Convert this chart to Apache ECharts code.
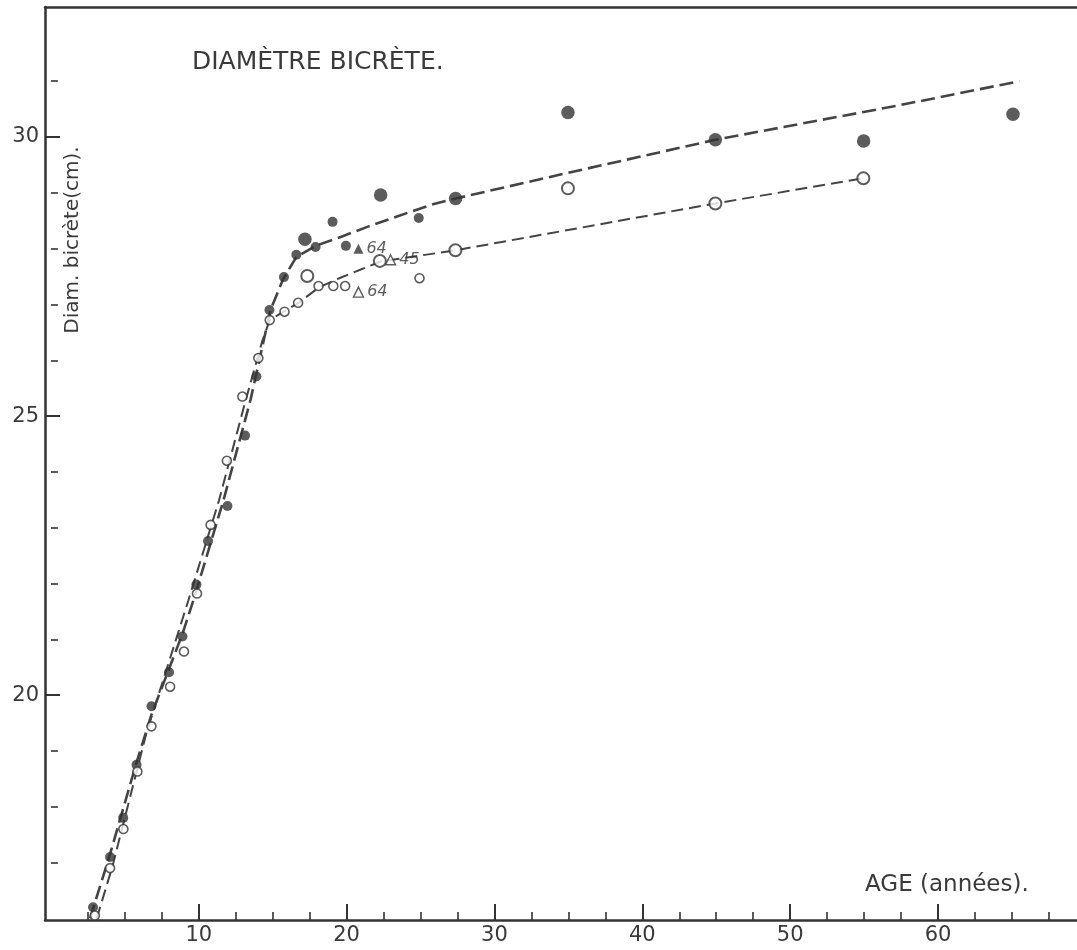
<!DOCTYPE html>
<html><head><meta charset="utf-8">
<script src="https://cdn.jsdelivr.net/npm/echarts@6/dist/echarts.min.js"></script>
<style>html,body{margin:0;padding:0;background:#fff}#c{width:1077px;height:950px}</style>
</head><body><div id="c"></div>
<script>
// ---- data ----
const xMajorTicks = [10, 20, 30, 40, 50, 60];
const xMinorTicks = [2.5, 5, 7.5, 12.5, 15, 17.5, 22.5, 25, 27.5, 32.5, 35, 37.5, 42.5, 45, 47.5, 52.5, 55, 57.5, 62.5, 65, 67.5];
const yMajorTicks = [20, 25, 30];
const yMinorTicks = [17, 18, 19, 21, 22, 23, 24, 26, 27, 28, 29, 31];

const filledSmall = [[2.85,16.2],[4.0,17.1],[4.89,17.8],[5.79,18.75],[6.8,19.8],[7.99,20.41],[8.9,21.05],[9.84,21.98],[10.63,22.76],[11.94,23.39],[13.13,24.65],[13.9,25.71],[14.78,26.9],[15.76,27.49],[16.6,27.89],[17.9,28.03],[19.05,28.48],[19.95,28.05],[24.88,28.55]];
const filledLarge = [[17.18,28.17],[22.3,28.96],[27.37,28.9],[34.97,30.44],[44.94,29.95],[54.97,29.93],[65.07,30.41]];
const openSmall = [[2.97,16.05],[4.0,16.9],[4.9,17.6],[5.85,18.63],[6.8,19.44],[8.06,20.15],[9.0,20.78],[9.88,21.82],[10.8,23.05],[11.9,24.2],[12.95,25.35],[14.03,26.04],[14.8,26.72],[15.8,26.87],[16.72,27.03],[18.1,27.33],[19.1,27.33],[19.9,27.33],[24.93,27.47]];
const openLarge = [[17.34,27.51],[22.25,27.78],[27.36,27.97],[34.97,29.08],[44.94,28.81],[54.95,29.26]];
const filledTriangles = [[20.8,28.0]];
const filledTriangleLabels = ['64'];
const openTriangles = [[20.8,27.22],[22.97,27.8]];
const openTriangleLabels = ['64','45'];

const filledCurve = [[2.65,16.0],[4.0,17.15],[5.8,18.8],[6.8,19.65],[8.9,21.1],[9.7,21.75],[11.67,23.49],[13.5,25.29],[14.85,26.9],[15.7,27.45],[16.6,27.85],[17.9,28.05],[19.6,28.21],[21.4,28.39],[23.65,28.6],[25.9,28.8],[27.4,28.9],[35,29.36],[44.94,29.95],[57.4,30.57],[65.5,31.0]];
const openCurve = [[3.1,16.0],[4.15,16.92],[6.45,19.31],[9.3,21.7],[11.37,23.49],[13.18,25.29],[14.3,26.35],[14.8,26.72],[15.8,26.88],[16.75,27.03],[18.1,27.3],[19.5,27.47],[21,27.63],[22.3,27.77],[27.36,27.97],[44.94,28.81],[54.95,29.26]];

const titleText = 'DIAMÈTRE BICRÈTE.';
const yAxisTitle = 'Diam. bicrète(cm).';
const xAxisTitle = 'AGE (années).';

// ---- chart ----
const INK = '#333333';
const FONT = 'DejaVu Sans';
const X_MIN = -0.4, X_MAX = 69.4, Y_MIN = 15.97, Y_MAX = 32.33;

const chart = echarts.init(document.getElementById('c'), null, {renderer: 'canvas'});
const plainAxisX = (extra) => Object.assign({
  type: 'value', min: X_MIN, max: X_MAX, splitLine: {show: false}, gridIndex: 0
}, extra);
const plainAxisY = (extra) => Object.assign({
  type: 'value', min: Y_MIN, max: Y_MAX, splitLine: {show: false}, gridIndex: 0
}, extra);

const option = {
  animation: false,
  backgroundColor: '#ffffff',
  grid: {left: 45, right: 0, top: 7, bottom: 30, containLabel: false},
  xAxis: [
    plainAxisX({position: 'bottom',
      axisLine: {show: true, onZero: false, lineStyle: {color: INK, width: 2.5}},
      axisTick: {show: true, inside: true, length: 16, customValues: xMajorTicks, lineStyle: {color: INK, width: 2}},
      axisLabel: {show: true, customValues: xMajorTicks, color: '#3a3a3a', fontFamily: FONT, fontSize: 21, margin: 5}}),
    plainAxisX({position: 'bottom',
      axisLine: {show: false},
      axisTick: {show: true, inside: true, length: 8, customValues: xMinorTicks, lineStyle: {color: INK, width: 1.6}},
      axisLabel: {show: false}}),
    plainAxisX({position: 'top',
      axisLine: {show: true, onZero: false, lineStyle: {color: INK, width: 2.5}},
      axisTick: {show: false}, axisLabel: {show: false}})
  ],
  yAxis: [
    plainAxisY({position: 'left',
      axisLine: {show: true, onZero: false, lineStyle: {color: INK, width: 2.5}},
      axisTick: {show: true, inside: true, length: 15, customValues: yMajorTicks, lineStyle: {color: INK, width: 2}},
      axisLabel: {show: true, customValues: yMajorTicks, color: '#3a3a3a', fontFamily: FONT, fontSize: 21, margin: 6}}),
    plainAxisY({position: 'left',
      axisLine: {show: false},
      axisTick: {show: true, inside: true, length: 7, customValues: yMinorTicks, lineStyle: {color: INK, width: 1.6}},
      axisLabel: {show: false}})
  ],
  series: [
    {type: 'line', data: filledCurve, showSymbol: false, symbol: 'none', smooth: false, z: 2,
      lineStyle: {color: '#444444', width: 2.6, type: [14, 6]}},
    {type: 'line', data: openCurve, showSymbol: false, symbol: 'none', smooth: false, z: 2,
      lineStyle: {color: '#444444', width: 2, type: [12, 6]}},
    {type: 'scatter', data: filledSmall, symbol: 'circle', symbolSize: 10, z: 5,
      itemStyle: {color: INK}},
    {type: 'scatter', data: filledLarge, symbol: 'circle', symbolSize: 13.5, z: 5,
      itemStyle: {color: INK}},
    {type: 'scatter', data: openSmall, symbol: 'circle', symbolSize: 9, z: 5,
      itemStyle: {color: '#ffffff', borderColor: INK, borderWidth: 1.6}},
    {type: 'scatter', data: openLarge, symbol: 'circle', symbolSize: 12, z: 5,
      itemStyle: {color: '#ffffff', borderColor: INK, borderWidth: 2}},
    {type: 'scatter', data: filledTriangles, symbol: 'triangle', symbolSize: 10, z: 5,
      itemStyle: {color: INK},
      label: {show: true, position: 'right', distance: 3, color: '#333', fontFamily: FONT, fontStyle: 'italic', fontSize: 16,
        formatter: p => filledTriangleLabels[p.dataIndex]}},
    {type: 'scatter', data: openTriangles, symbol: 'triangle', symbolSize: 10, z: 5,
      itemStyle: {color: '#ffffff', borderColor: INK, borderWidth: 1.4},
      label: {show: true, position: 'right', distance: 3, color: '#333', fontFamily: FONT, fontStyle: 'italic', fontSize: 16,
        formatter: p => openTriangleLabels[p.dataIndex]}}
  ],
  graphic: [
    {type: 'text', left: 192, top: 50, style: {text: titleText, fill: '#3a3a3a', font: '25px "DejaVu Sans"'}},
    {type: 'text', x: 73, y: 240, rotation: Math.PI / 2,
      style: {text: yAxisTitle, fill: '#3a3a3a', font: '20px "DejaVu Sans"', textAlign: 'center', textVerticalAlign: 'middle'}},
    {type: 'text', left: 865, top: 874, style: {text: xAxisTitle, fill: '#3a3a3a', font: '23px "DejaVu Sans"'}}
  ]
};
chart.setOption(option);
</script>
</body></html>
